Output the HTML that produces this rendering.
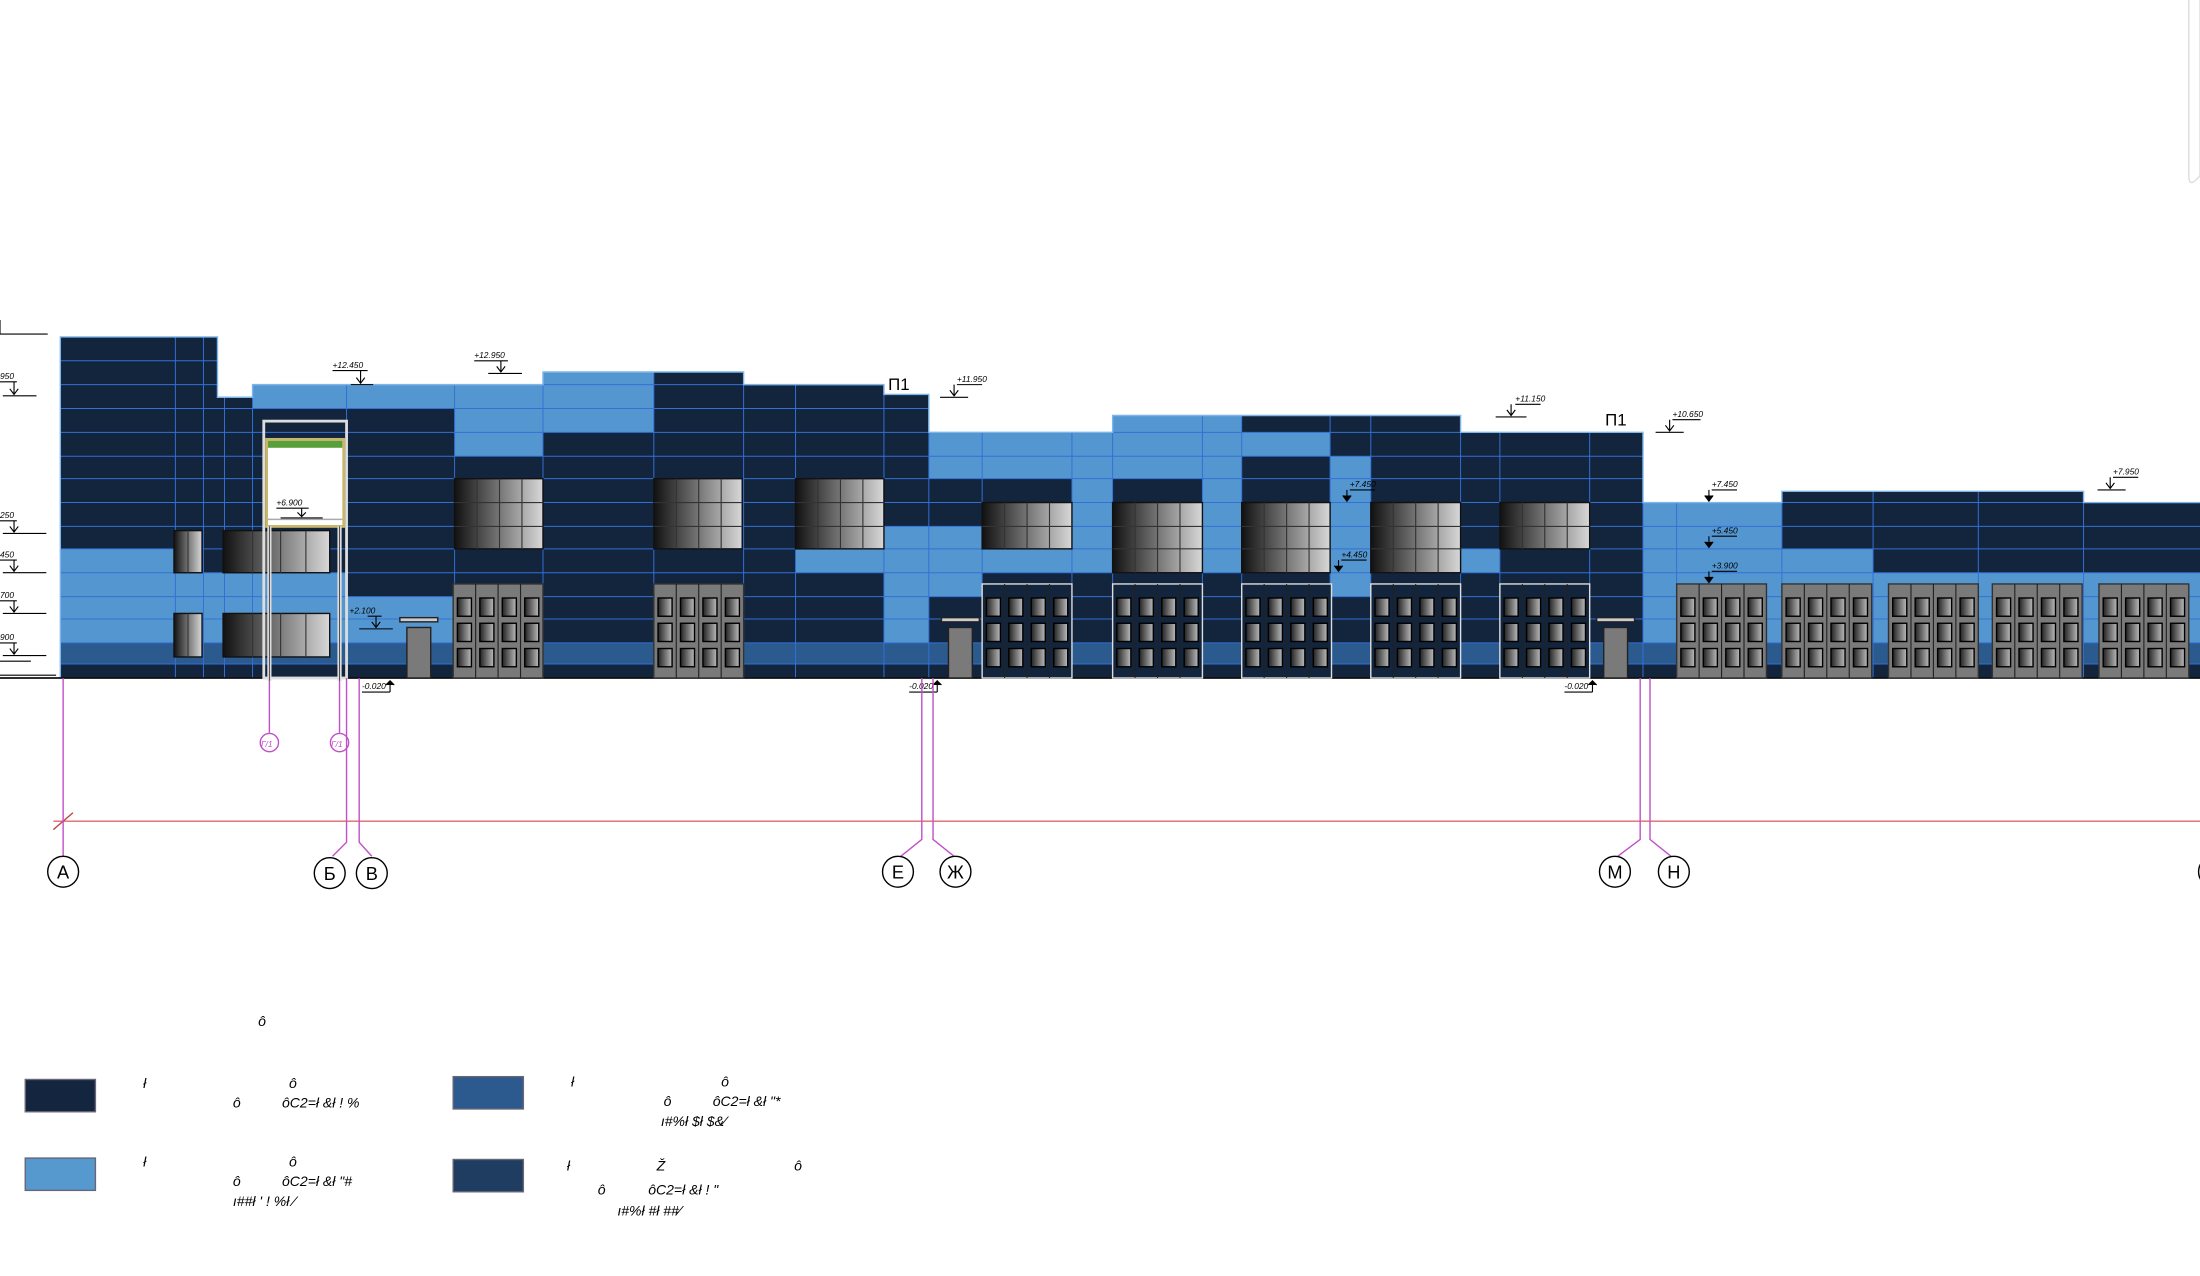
<!DOCTYPE html>
<html><head><meta charset="utf-8"><style>
html,body{margin:0;padding:0;background:#fff;width:2200px;height:1276px;overflow:hidden}
svg{display:block}
text{font-family:"Liberation Sans",sans-serif}
</style></head><body>
<svg width="2200" height="1276" viewBox="0 0 1568 909" preserveAspectRatio="none" xmlns="http://www.w3.org/2000/svg">
<defs>
<linearGradient id="win" x1="0" x2="1" y1="0" y2="0"><stop offset="0" stop-color="#111"/><stop offset="1" stop-color="#d8d8d8"/></linearGradient>
<linearGradient id="cell" x1="0" x2="1"><stop offset="0" stop-color="#222"/><stop offset="1" stop-color="#bbb"/></linearGradient>
<clipPath id="bld"><path d="M43,483 L43,240 L155,240 L155,283 L180,283 L180,274 L387,274 L387,265 L530,265 L530,274 L630,274 L630,281 L662,281 L662,308 L793,308 L793,296 L1041,296 L1041,308 L1171,308 L1171,358 L1270,358 L1270,350 L1485,350 L1485,358 L1568,358 L1568,483 Z"/></clipPath>
<g id="cells">
<rect x="3" y="10" width="10" height="13" fill="url(#cell)" stroke="#000" stroke-width="1"/>
<rect x="19" y="10" width="10" height="13" fill="url(#cell)" stroke="#000" stroke-width="1"/>
<rect x="35" y="10" width="10" height="13" fill="url(#cell)" stroke="#000" stroke-width="1"/>
<rect x="51" y="10" width="10" height="13" fill="url(#cell)" stroke="#000" stroke-width="1"/>
<rect x="3" y="28" width="10" height="13" fill="url(#cell)" stroke="#000" stroke-width="1"/>
<rect x="19" y="28" width="10" height="13" fill="url(#cell)" stroke="#000" stroke-width="1"/>
<rect x="35" y="28" width="10" height="13" fill="url(#cell)" stroke="#000" stroke-width="1"/>
<rect x="51" y="28" width="10" height="13" fill="url(#cell)" stroke="#000" stroke-width="1"/>
<rect x="3" y="46" width="10" height="13" fill="url(#cell)" stroke="#000" stroke-width="1"/>
<rect x="19" y="46" width="10" height="13" fill="url(#cell)" stroke="#000" stroke-width="1"/>
<rect x="35" y="46" width="10" height="13" fill="url(#cell)" stroke="#000" stroke-width="1"/>
<rect x="51" y="46" width="10" height="13" fill="url(#cell)" stroke="#000" stroke-width="1"/>
<line x1="16" y1="0" x2="16" y2="67" stroke="#222" stroke-width="0.8"/>
<line x1="32" y1="0" x2="32" y2="67" stroke="#222" stroke-width="0.8"/>
<line x1="48" y1="0" x2="48" y2="67" stroke="#222" stroke-width="0.8"/>
</g>
<g id="gdoor"><rect x="0" y="0" width="64" height="67" fill="#7a7a7a" stroke="#333" stroke-width="1"/><use href="#cells"/></g>
<g id="ddoor"><rect x="0" y="0" width="64" height="67" fill="#13243d" stroke="#ddd" stroke-width="1"/><use href="#cells"/></g>
</defs>

<!-- building -->
<g clip-path="url(#bld)">
<rect x="43" y="230" width="1530" height="260" fill="#13243d"/>
<g fill="#5497d0">
<rect x="180" y="274" width="207" height="17"/>
<rect x="324" y="291" width="63" height="34"/>
<rect x="387" y="265" width="79" height="43"/>
<rect x="43" y="391" width="81" height="67"/>
<rect x="124" y="408" width="123" height="50"/>
<rect x="247" y="425" width="77" height="33"/>
<rect x="567" y="391" width="63" height="17"/>
<rect x="630" y="375" width="32" height="83"/>
<rect x="662" y="308" width="131" height="33"/>
<rect x="793" y="296" width="92" height="45"/>
<rect x="885" y="308" width="63" height="17"/>
<rect x="662" y="375" width="38" height="50"/>
<rect x="764" y="341" width="29" height="67"/>
<rect x="857" y="325" width="28" height="83"/>
<rect x="948" y="325" width="29" height="100"/>
<rect x="700" y="391" width="93" height="17"/>
<rect x="1041" y="391" width="28" height="17"/>
<rect x="1171" y="358" width="99" height="100"/>
<rect x="1270" y="391" width="65" height="67"/>
<rect x="1335" y="408" width="233" height="50"/>
</g>
<rect x="43" y="458" width="1530" height="15" fill="#2b5a8f"/>
<rect x="43" y="473" width="1530" height="10" fill="#13243d"/>
<g stroke="#3270d6" stroke-width="0.7">
<line x1="0" x2="1568" y1="257" y2="257"/><line x1="0" x2="1568" y1="274" y2="274"/>
<line x1="0" x2="1568" y1="291" y2="291"/><line x1="0" x2="1568" y1="308" y2="308"/>
<line x1="0" x2="1568" y1="325" y2="325"/><line x1="0" x2="1568" y1="341" y2="341"/>
<line x1="0" x2="1568" y1="358" y2="358"/><line x1="0" x2="1568" y1="375" y2="375"/>
<line x1="0" x2="1568" y1="391" y2="391"/><line x1="0" x2="1568" y1="408" y2="408"/>
<line x1="0" x2="1568" y1="425" y2="425"/><line x1="0" x2="1568" y1="441" y2="441"/>
<line x1="0" x2="1568" y1="458" y2="458"/><line x1="0" x2="1568" y1="473" y2="473"/>
<line y1="230" y2="483" x1="125" x2="125"/><line y1="230" y2="483" x1="145" x2="145"/>
<line y1="230" y2="483" x1="160" x2="160"/><line y1="230" y2="483" x1="180" x2="180"/>
<line y1="230" y2="483" x1="247" x2="247"/><line y1="230" y2="483" x1="324" x2="324"/>
<line y1="230" y2="483" x1="387" x2="387"/><line y1="230" y2="483" x1="466" x2="466"/>
<line y1="230" y2="483" x1="530" x2="530"/><line y1="230" y2="483" x1="567" x2="567"/>
<line y1="230" y2="483" x1="630" x2="630"/><line y1="230" y2="483" x1="662" x2="662"/>
<line y1="230" y2="483" x1="700" x2="700"/><line y1="230" y2="483" x1="764" x2="764"/>
<line y1="230" y2="483" x1="793" x2="793"/><line y1="230" y2="483" x1="857" x2="857"/>
<line y1="230" y2="483" x1="885" x2="885"/><line y1="230" y2="483" x1="948" x2="948"/>
<line y1="230" y2="483" x1="977" x2="977"/><line y1="230" y2="483" x1="1041" x2="1041"/>
<line y1="230" y2="483" x1="1069" x2="1069"/><line y1="230" y2="483" x1="1133" x2="1133"/>
<line y1="230" y2="483" x1="1171" x2="1171"/><line y1="230" y2="483" x1="1195" x2="1195"/>
<line y1="230" y2="483" x1="1270" x2="1270"/><line y1="230" y2="483" x1="1335" x2="1335"/>
<line y1="230" y2="483" x1="1410" x2="1410"/><line y1="230" y2="483" x1="1485" x2="1485"/>
</g>
</g>
<path d="M43,483 L43,240 L155,240 L155,283 L180,283 L180,274 L387,274 L387,265 L530,265 L530,274 L630,274 L630,281 L662,281 L662,308 L793,308 L793,296 L1041,296 L1041,308 L1171,308 L1171,358 L1270,358 L1270,350 L1485,350 L1485,358 L1568,358" fill="none" stroke="#7fb6ea" stroke-width="1"/>
<line x1="0" y1="483" x2="1568" y2="483" stroke="#111" stroke-width="1.2"/>

<!-- windows -->
<g stroke="#111" stroke-width="1">
<rect x="324" y="341" width="63" height="50" fill="url(#win)"/>
<rect x="466" y="341" width="63" height="50" fill="url(#win)"/>
<rect x="567" y="341" width="63" height="50" fill="url(#win)"/>
<rect x="124" y="378" width="20" height="30" fill="url(#win)"/>
<rect x="124" y="437" width="20" height="31" fill="url(#win)"/>
<rect x="159" y="378" width="76" height="30" fill="url(#win)"/>
<rect x="159" y="437" width="76" height="31" fill="url(#win)"/>
<rect x="700" y="358" width="64" height="33" fill="url(#win)"/>
<rect x="793" y="358" width="64" height="50" fill="url(#win)"/>
<rect x="885" y="358" width="63" height="50" fill="url(#win)"/>
<rect x="977" y="358" width="64" height="50" fill="url(#win)"/>
<rect x="1069" y="358" width="64" height="33" fill="url(#win)"/>
</g>
<g stroke="#333" stroke-width="0.8">
<path d="M340,341V391M356,341V391M372,341V391M324,358H387M324,375H387"/>
<path d="M482,341V391M498,341V391M514,341V391M466,358H529M466,375H529"/>
<path d="M583,341V391M599,341V391M615,341V391M567,358H630M567,375H630"/>
<path d="M716,358V391M732,358V391M748,358V391M700,375H764"/>
<path d="M809,358V408M825,358V408M841,358V408M793,375H857M793,391H857"/>
<path d="M901,358V408M917,358V408M933,358V408M885,375H948M885,391H948"/>
<path d="M993,358V408M1009,358V408M1025,358V408M977,375H1041M977,391H1041"/>
<path d="M1085,358V391M1101,358V391M1117,358V391M1069,375H1133"/>
<path d="M180,378V408M200,378V408M218,378V408M180,437V468M200,437V468M218,437V468M134,378V408M134,437V468"/>
</g>

<!-- doors -->
<use href="#gdoor" x="323" y="416"/><use href="#gdoor" x="466" y="416"/>
<use href="#ddoor" x="700" y="416"/><use href="#ddoor" x="793" y="416"/>
<use href="#ddoor" x="885" y="416"/><use href="#ddoor" x="977" y="416"/>
<use href="#ddoor" x="1069" y="416"/>
<use href="#gdoor" x="1195" y="416"/><use href="#gdoor" x="1270" y="416"/>
<use href="#gdoor" x="1346" y="416"/><use href="#gdoor" x="1420" y="416"/>
<use href="#gdoor" x="1496" y="416"/>
<!-- small doors -->
<g fill="#7a7a7a" stroke="#222" stroke-width="1">
<rect x="290" y="447" width="17" height="36"/><rect x="285" y="440" width="27" height="3" fill="#ccc"/>
<rect x="676" y="447" width="17" height="36"/><rect x="671" y="440" width="27" height="3" fill="#ccc"/>
<rect x="1143" y="447" width="17" height="36"/><rect x="1138" y="440" width="27" height="3" fill="#ccc"/>
</g>

<!-- tower frame -->
<rect x="188" y="300" width="59" height="183" fill="none" stroke="#ddd" stroke-width="2"/>
<rect x="190" y="313" width="55" height="62" fill="#fff" stroke="#c9b66a" stroke-width="2"/>
<rect x="191" y="314" width="53" height="5" fill="#5aa03a"/>
<line x1="191" y1="370" x2="244" y2="370" stroke="#aaa"/>
<line x1="192" y1="375" x2="192" y2="485" stroke="#ddd" stroke-width="3"/>
<line x1="242" y1="375" x2="242" y2="485" stroke="#ddd" stroke-width="3"/>
<line x1="192" y1="375" x2="192" y2="485" stroke="#333" stroke-width="0.6"/>
<line x1="242" y1="375" x2="242" y2="485" stroke="#333" stroke-width="0.6"/>

<!-- elevation marks -->
<g font-size="6" font-style="italic" fill="#000" stroke="#000" stroke-width="0.8">
<g><text x="237" y="262" stroke="none">+12.450</text><path d="M237,264H262M257,264V273M254,269L257,273L260,269M250,274H266" fill="none"/></g>
<g><text x="338" y="255" stroke="none">+12.950</text><path d="M338,257H362M357,257V265M354,261L357,265L360,261M348,266H372" fill="none"/></g>
<g><text x="682" y="272" stroke="none">+11.950</text><path d="M682,274H700M680,274V282M677,278L680,282L683,278M670,283H690" fill="none"/></g>
<g><text x="1080" y="286" stroke="none">+11.150</text><path d="M1080,288H1098M1077,288V296M1074,292L1077,296L1080,292M1066,297H1088" fill="none"/></g>
<g><text x="1192" y="297" stroke="none">+10.650</text><path d="M1192,299H1212M1190,299V307M1187,303L1190,307L1193,303M1180,308H1200" fill="none"/></g>
<g><text x="1220" y="347" stroke="none">+7.450</text><path d="M1220,349H1238M1218,349V357M1215,353L1218,357L1221,353"/></g>
<g><text x="1220" y="380" stroke="none">+5.450</text><path d="M1220,382H1238M1218,382V390M1215,386L1218,390L1221,386"/></g>
<g><text x="1220" y="405" stroke="none">+3.900</text><path d="M1220,407H1238M1218,407V415M1215,411L1218,415L1221,411"/></g>
<g><text x="1506" y="338" stroke="none">+7.950</text><path d="M1506,340H1524M1504,340V348M1501,344L1504,348L1507,344M1495,349H1515" fill="none"/></g>
<g><text x="962" y="347" stroke="none">+7.450</text><path d="M962,349H980M960,349V357M957,353L960,357L963,353"/></g>
<g><text x="956" y="397" stroke="none">+4.450</text><path d="M956,399H974M954,399V407M951,403L954,407L957,403"/></g>
<g><text x="249" y="437" stroke="#fff" stroke-width="0">+2.100</text><path d="M262,439H272M268,439V447M265,443L268,447L271,443M256,448H280" fill="none"/></g>
<g><text x="197" y="360" stroke="none">+6.900</text><path d="M197,362H220M215,362V368M212,365L215,368L218,365M200,369H230" fill="none"/></g>
<g><text x="258" y="491" stroke="none">-0.020</text><path d="M258,493H278M278,493V485M275,488L278,485L281,488"/></g>
<g><text x="648" y="491" stroke="none">-0.020</text><path d="M648,493H668M668,493V485M665,488L668,485L671,488"/></g>
<g><text x="1115" y="491" stroke="none">-0.020</text><path d="M1115,493H1135M1135,493V485M1132,488L1135,485L1138,488"/></g>
<g><text x="0" y="270" stroke="none">950</text><path d="M0,272H12M10,272V281M7,277L10,281L13,277M2,282H26" fill="none"/></g>
<g><text x="0" y="369" stroke="none">250</text><path d="M0,371H12M10,371V379M7,375L10,379L13,375M2,380H33" fill="none"/></g>
<g><text x="0" y="397" stroke="none">450</text><path d="M0,399H12M10,399V407M7,403L10,407L13,403M2,408H33" fill="none"/></g>
<g><text x="0" y="426" stroke="none">700</text><path d="M0,428H12M10,428V436M7,432L10,436L13,432M2,437H33" fill="none"/></g>
<g><text x="0" y="456" stroke="none">900</text><path d="M0,458H12M10,458V466M7,462L10,466L13,462M2,467H33M0,471H22" fill="none"/></g>
<path d="M0,228V238M0,238H34M0,481H40" fill="none"/>
</g>
<text x="633" y="278" font-size="12">П1</text>
<text x="1144" y="303" font-size="12">П1</text>

<!-- axes -->
<line x1="38" y1="585" x2="1568" y2="585" stroke="#e06a6a" stroke-width="1"/>
<line x1="38" y1="591" x2="52" y2="579" stroke="#c04040" stroke-width="1"/>
<g fill="none" stroke="#c050c8" stroke-width="1">
<path d="M45,483V610"/>
<path d="M247,483V600L237,610"/>
<path d="M256,483V600L265,610"/>
<path d="M657,483V598L642,610"/>
<path d="M665,483V598L680,610"/>
<path d="M1169,483V598L1153,610"/>
<path d="M1176,483V598L1191,610"/>
<path d="M192,485V522M242,485V522"/>
<circle cx="192" cy="529" r="6.5"/><circle cx="242" cy="529" r="6.5"/>
</g>
<text x="186" y="532" font-size="6" fill="#c050c8" font-style="italic">Г/1</text>
<text x="236" y="532" font-size="6" fill="#c050c8" font-style="italic">Г/1</text>
<g fill="#fff" stroke="#000" stroke-width="1">
<circle cx="45" cy="621" r="11"/><circle cx="235" cy="622" r="11"/><circle cx="265" cy="622" r="11"/>
<circle cx="640" cy="621" r="11"/><circle cx="681" cy="621" r="11"/>
<circle cx="1151" cy="621" r="11"/><circle cx="1193" cy="621" r="11"/><circle cx="1578" cy="621" r="11"/>
</g>
<g font-size="13" text-anchor="middle" fill="#000">
<text x="45" y="626">А</text><text x="235" y="627">Б</text><text x="265" y="627">В</text>
<text x="640" y="626">Е</text><text x="681" y="626">Ж</text>
<text x="1151" y="626">М</text><text x="1193" y="626">Н</text>
</g>
<path d="M1568,0 V125 Q1560,135 1560,125 V0" fill="none" stroke="#ddd"/>

<!-- legend -->
<g stroke="#667" stroke-width="1">
<rect x="18" y="769" width="50" height="23" fill="#14263f"/>
<rect x="18" y="825" width="50" height="23" fill="#5599cf"/>
<rect x="323" y="767" width="50" height="23" fill="#2c5a8f"/>
<rect x="323" y="826" width="50" height="23" fill="#1e3d61"/>
</g>
<g font-size="10" font-style="italic" fill="#000">
<text x="184" y="731">ô</text>
<text x="102" y="775">ł</text><text x="206" y="775">ô</text><text x="166" y="789">ô</text><text x="201" y="789">ôC2=ł &amp;ł ! %</text>
<text x="102" y="831">ł</text><text x="206" y="831">ô</text><text x="166" y="845">ô</text><text x="201" y="845">ôC2=ł &amp;ł "#</text><text x="166" y="859">ı##ł ' ! %ł ⁄</text>
<text x="407" y="774">ł</text><text x="514" y="774">ô</text><text x="473" y="788">ô</text><text x="508" y="788">ôC2=ł &amp;ł "*</text><text x="471" y="802">ı#%ł $ł $&amp;⁄</text>
<text x="404" y="834">ł</text><text x="468" y="834">Ž</text><text x="566" y="834">ô</text><text x="426" y="851">ô</text><text x="462" y="851">ôC2=ł &amp;ł ! "</text><text x="440" y="866">ı#%ł #ł ##⁄</text>
</g>
</svg>
</body></html>
